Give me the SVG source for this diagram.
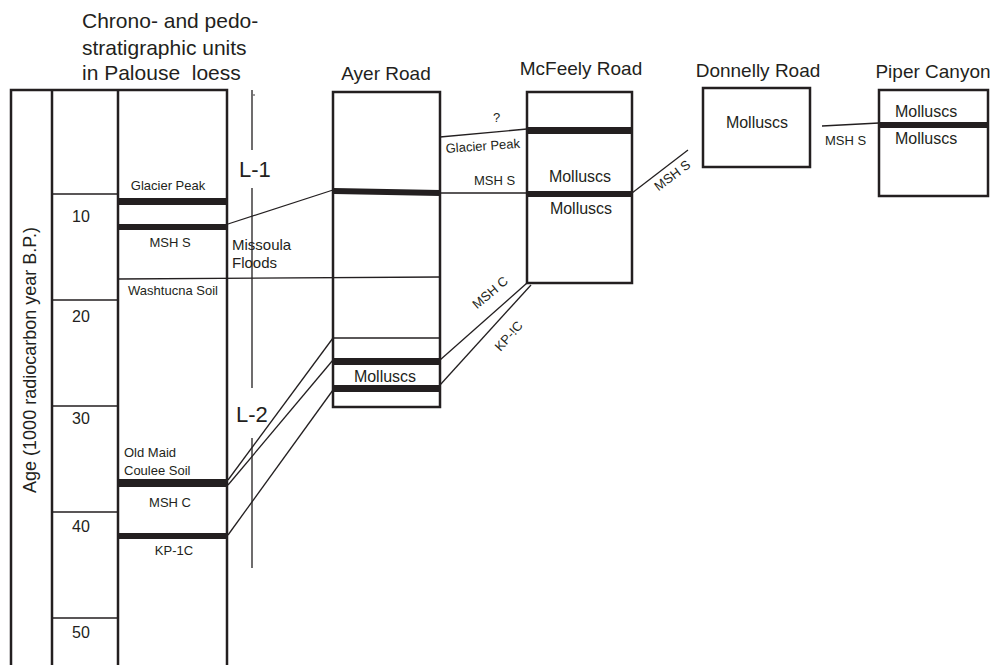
<svg xmlns="http://www.w3.org/2000/svg" width="993" height="665" viewBox="0 0 993 665">
<style>
text{font-family:"Liberation Sans",Arial,sans-serif;fill:#231f20}
.t{font-size:19px}
.h{font-size:21px}
.L{font-size:22px}
.n{font-size:16px}
.s{font-size:13px}
.m{font-size:15px}
.box{fill:none;stroke:#231f20;stroke-width:2.5}
.ln{fill:none;stroke:#231f20;stroke-width:1.3}
.bar{fill:#231f20}
.c{text-anchor:middle}
</style>
<rect width="993" height="665" fill="#fff"/>
<g id="palouse">
<text class="h" x="82" y="28">Chrono- and pedo-</text>
<text class="h" x="82" y="55">stratigraphic units</text>
<text class="h" x="82" y="80">in Palouse&#160; loess</text>
<path class="box" d="M11,666 V90 H227 V666 M52,90 V666 M118,90 V666"/>
<path class="ln" d="M52,194 H118 M52,300 H118 M52,406 H118 M52,512 H118 M52,618 H118"/>
<text class="n c" x="81" y="222">10</text>
<text class="n c" x="81" y="322">20</text>
<text class="n c" x="81" y="424">30</text>
<text class="n c" x="81" y="532">40</text>
<text class="n c" x="81" y="638">50</text>
<text class="c" transform="translate(36,360) rotate(-90)" style="font-size:18px">Age (1000 radiocarbon year B.P.)</text>
<rect class="bar" x="118" y="198" width="109" height="7"/>
<rect class="bar" x="118" y="224" width="109" height="6"/>
<rect class="bar" x="118" y="479" width="110" height="8"/>
<rect class="bar" x="118" y="533" width="110" height="6"/>
<text class="s c" x="168" y="190">Glacier Peak</text>
<text class="s c" x="170" y="247">MSH S</text>
<text class="s c" x="173" y="295">Washtucna Soil</text>
<text class="s" x="124" y="457">Old Maid</text>
<text class="s" x="124" y="475">Coulee Soil</text>
<text class="s c" x="170" y="507">MSH C</text>
<text class="s c" x="174" y="555">KP-1C</text>
<text class="m" x="232" y="250">Missoula</text>
<text class="m" x="232" y="268">Floods</text>
<path class="ln" d="M252,90 V150 M252,188 V388 M252,438 V568"/>
<circle cx="254" cy="95" r="0.8" fill="#231f20"/>
<text class="L" x="239" y="177">L-1</text>
<text class="L" x="236" y="422">L-2</text>
</g>
<g id="ayer">
<text class="t c" x="386" y="80">Ayer Road</text>
<rect class="box" x="333" y="92" width="107" height="315"/>
<polygon class="bar" points="334,188 440,190 440,196 334,194"/>
<path class="ln" d="M333,338 H440"/>
<rect class="bar" x="334" y="358" width="106" height="7"/>
<rect class="bar" x="334" y="385" width="106" height="7"/>
<text class="n c" x="385" y="382">Molluscs</text>
</g>
<g id="mcfeely">
<text class="t c" x="581" y="75">McFeely Road</text>
<rect class="box" x="527" y="92" width="105" height="191"/>
<rect class="bar" x="528" y="127" width="104" height="7"/>
<rect class="bar" x="528" y="191" width="104" height="6"/>
<text class="n c" x="580" y="182">Molluscs</text>
<text class="n c" x="581" y="214">Molluscs</text>
</g>
<g id="donnelly">
<text class="t c" x="758" y="77">Donnelly Road</text>
<rect class="box" x="703" y="88" width="107" height="79"/>
<text class="n c" x="757" y="128">Molluscs</text>
</g>
<g id="piper">
<text class="t c" x="933" y="78">Piper Canyon</text>
<rect class="box" x="879" y="90" width="109" height="106"/>
<rect class="bar" x="880" y="122" width="108" height="6"/>
<text class="n" x="895" y="117">Molluscs</text>
<text class="n" x="895" y="144">Molluscs</text>
</g>
<g id="connectors">
<path class="ln" d="M228,224 L333,190"/>
<path class="ln" d="M118,279 L440,277"/>
<path class="ln" d="M228,480 L333,338"/>
<path class="ln" d="M228,485 L333,360"/>
<path class="ln" d="M228,535 L333,390"/>
<path class="ln" d="M440,137 L527,129"/>
<path class="ln" d="M440,193 L527,193"/>
<path class="ln" d="M440,360 L527,283"/>
<path class="ln" d="M440,385 L531,285"/>
<path class="ln" d="M632,193 L688,150"/>
<path class="ln" d="M822,126 L879,123"/>
<text class="s" x="493" y="122">?</text>
<text class="s" transform="translate(446,153) rotate(-4)">Glacier Peak</text>
<text class="s" x="474" y="185">MSH S</text>
<text class="s c" transform="translate(493,296) rotate(-40)">MSH C</text>
<text class="s c" transform="translate(512,339) rotate(-48)">KP-!C</text>
<text class="s c" transform="translate(675,179) rotate(-37)">MSH S</text>
<text class="s" x="825" y="145">MSH S</text>
</g>
</svg>
